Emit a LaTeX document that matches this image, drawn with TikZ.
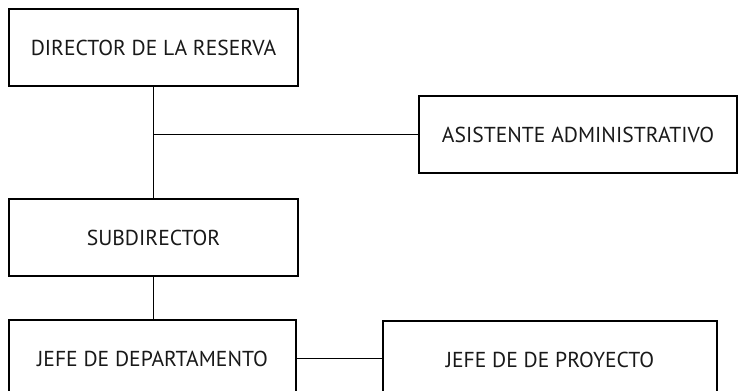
\documentclass[tikz,border=0pt]{standalone}
\usepackage{fontspec}
\setmainfont{PT Sans}
\usetikzlibrary{positioning}

\tikzset{
    cargo/.style={draw, line width=0.7pt, minimum height=1.54cm, inner sep=0pt,
        font=\fontsize{12.3}{14}\selectfont, text=black!90},
    enlace/.style={line width=0.7pt}
}

\begin{document}
\begin{tikzpicture}[x=0.02cm, y=0.02cm]
    \useasboundingbox (0, 0) rectangle (743, -390);
    \clip (0, 0) rectangle (743, -390);
    % columna izquierda
    \node[cargo, minimum width=5.78cm] (director) at (153.5, -47.5) {DIRECTOR DE LA RESERVA};
    \node[cargo, minimum width=5.78cm] (subdirector) at (153.5, -237.5) {SUBDIRECTOR};
    \node[cargo, minimum width=5.74cm] (jefedep) at (152.5, -358.5) {JEFE DE DEPARTAMENTO};
    % derecha
    \node[cargo, minimum width=6.36cm] (asistente) at (578, -134.5) {ASISTENTE ADMINISTRATIVO};
    \node[cargo, minimum width=6.68cm] (jefepro) at (550, -359.5) {JEFE DE DE PROYECTO};
    \coordinate (rama) at (director.south |- asistente.west);
    \draw[enlace]
    (director.south) -- (subdirector.north)
    (rama) -- (asistente.west)
    (subdirector.south) -- (subdirector.south |- jefedep.north)
    (jefedep.east) -- (jefedep.east -| jefepro.west);
\end{tikzpicture}
\end{document}
